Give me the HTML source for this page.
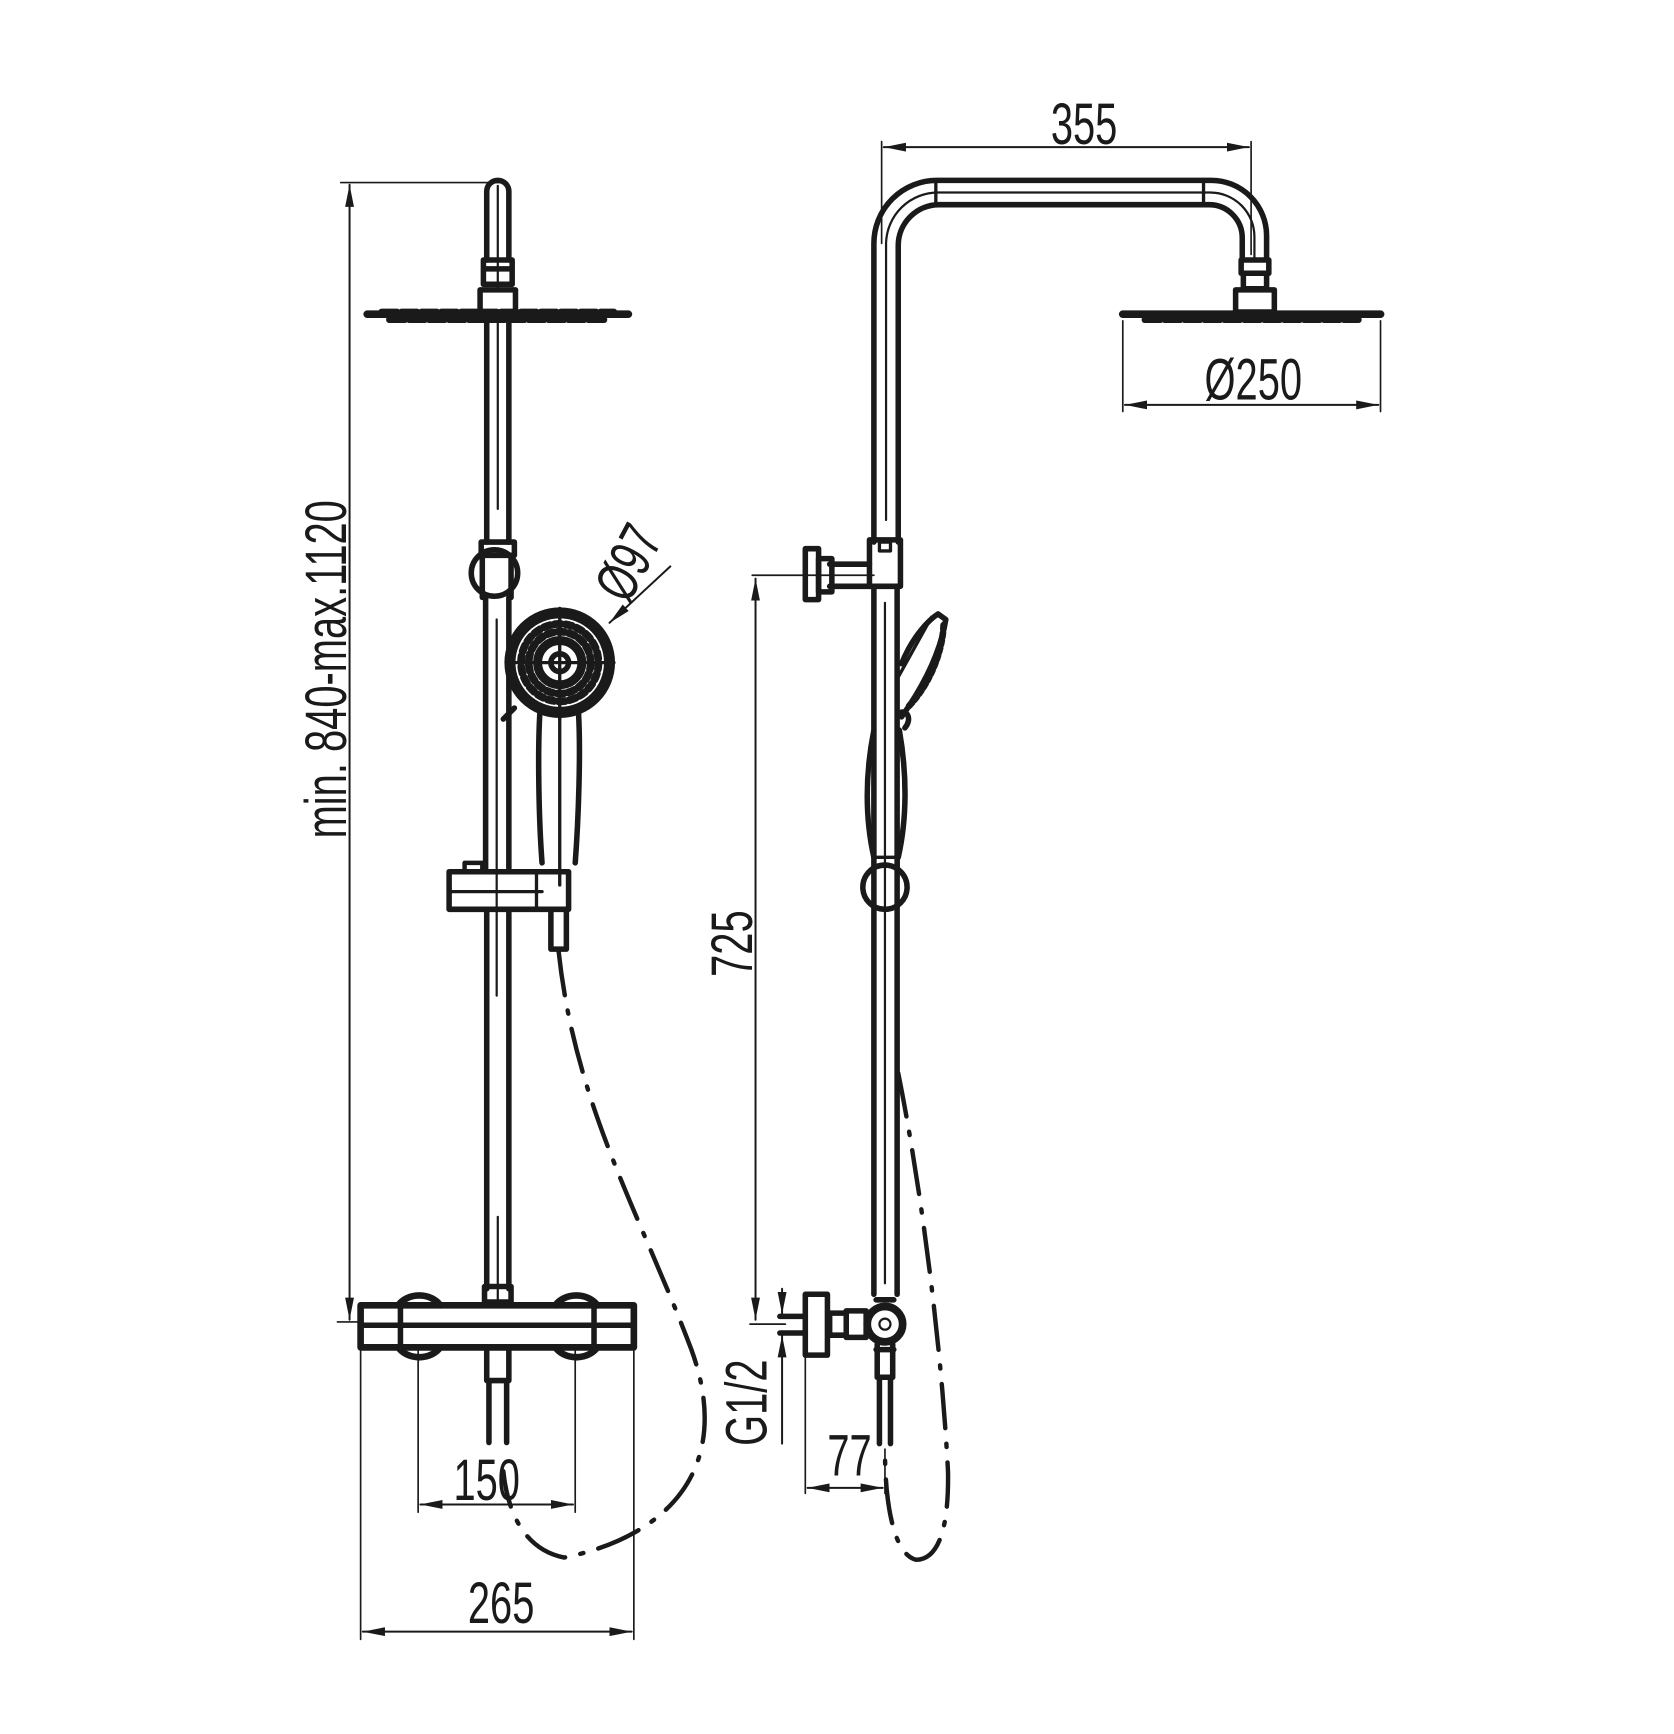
<!DOCTYPE html>
<html><head><meta charset="utf-8"><style>
html,body{margin:0;padding:0;background:#fff}
svg{display:block}
text{font-family:"Liberation Sans",sans-serif;fill:#1a1a1a;font-size:53px}
</style></head><body>
<svg width="1674" height="1734" viewBox="0 0 1536 1591" xmlns="http://www.w3.org/2000/svg">
<defs>
<marker id="a" viewBox="0 0 20 8" refX="20" refY="4" markerWidth="20" markerHeight="8" markerUnits="userSpaceOnUse" orient="auto-start-reverse"><path d="M0,0 L20,4 L0,8 Z" fill="#1a1a1a"/></marker>
</defs>
<g transform="scale(1.015)">
<g stroke="#1a1a1a" fill="none" stroke-linecap="round" stroke-linejoin="round">
<!-- ===== LEFT VIEW ===== -->
<line x1="308" y1="165" x2="452" y2="165" stroke-width="1.5"/>
<line x1="305" y1="1195" x2="328" y2="1195" stroke-width="1.5"/>
<line x1="316" y1="167" x2="316" y2="1193" stroke-width="1.8" marker-start="url(#a)" marker-end="url(#a)"/>
<path d="M440,235 L440,173 A10,10 0 0 1 460,173 L460,235" stroke-width="5"/>
<line x1="450" y1="168" x2="450" y2="262" stroke-width="2"/>
<path d="M437,235 h26 v8 h-26 z M437,243 h26 v14 h-26 z" stroke-width="5"/>
<path d="M434,262 h32 v20 h-32 z" stroke-width="5"/>
<path d="M332,284 L568,284" stroke-width="7"/>
<path d="M345,282 L555,282 M352,289 L548,289" stroke-width="6" stroke-dasharray="14,4"/>
<line x1="440" y1="290" x2="440" y2="490" stroke-width="5"/>
<line x1="460" y1="290" x2="460" y2="490" stroke-width="5"/>
<line x1="450" y1="290" x2="450" y2="460" stroke-width="2"/>
<path d="M435,490 h30 v12 h-30 z" stroke-width="5"/>
<circle cx="447" cy="518" r="21" stroke-width="5"/>
<line x1="436" y1="502" x2="436" y2="540" stroke-width="5"/>
<line x1="462" y1="502" x2="462" y2="540" stroke-width="5"/>
<line x1="439" y1="540" x2="439" y2="785" stroke-width="5"/>
<line x1="460" y1="540" x2="460" y2="785" stroke-width="5"/>
<line x1="449" y1="560" x2="449" y2="900" stroke-width="2"/>
<!-- hand shower -->
<circle cx="506" cy="599" r="45" stroke-width="10"/>
<circle cx="506" cy="599" r="20" stroke-width="8"/>
<circle cx="506" cy="599" r="8" stroke-width="5"/>
<line x1="458" y1="599" x2="555" y2="599" stroke-width="3"/>
<line x1="506" y1="550" x2="506" y2="650" stroke-width="3"/>
<g stroke-width="7" stroke-dasharray="6,4"><circle cx="506" cy="599" r="35"/><circle cx="506" cy="599" r="28"/></g>
<path d="M488,645 C486,680 487,740 490,780 M523,645 C525,680 523,740 520,780" stroke-width="5"/>
<line x1="506" y1="645" x2="506" y2="800" stroke-width="3"/>
<path d="M455,650 L465,640" stroke-width="5"/>
<path d="M406,788 h108 v34 h-108 z" stroke-width="5"/>
<path d="M420,780 h16 v8 h-16 z" stroke-width="4"/>
<line x1="406" y1="806" x2="490" y2="806" stroke-width="3"/>
<line x1="485" y1="788" x2="485" y2="822" stroke-width="3"/>
<path d="M498,822 v36 h14 v-36" stroke-width="5"/>
<line x1="440" y1="822" x2="440" y2="1165" stroke-width="5"/>
<line x1="460" y1="822" x2="460" y2="1165" stroke-width="5"/>
<line x1="450" y1="1100" x2="450" y2="1175" stroke-width="2"/>
<path d="M438,1163 h24 v14 h-24 z" stroke-width="5"/>
<!-- mixer -->
<path d="M326,1180 h247 v38 h-247 z" stroke-width="6"/>
<line x1="326" y1="1198" x2="573" y2="1198" stroke-width="5"/>
<path d="M360,1180 A22,18 0 0 1 398,1180 M502,1180 A22,18 0 0 1 540,1180" stroke-width="6"/>
<path d="M360,1218 A22,18 0 0 0 398,1218 M502,1218 A22,18 0 0 0 540,1218" stroke-width="6"/>
<line x1="362" y1="1180" x2="362" y2="1218" stroke-width="5"/>
<line x1="537" y1="1180" x2="537" y2="1218" stroke-width="5"/>
<path d="M440,1218 v30 h20 v-30" stroke-width="5"/>
<path d="M442,1248 v56 M458,1248 v56" stroke-width="5"/>
<line x1="378" y1="1220" x2="378" y2="1367" stroke-width="1.5"/>
<line x1="520" y1="1220" x2="520" y2="1367" stroke-width="1.5"/>
<line x1="380" y1="1360" x2="518" y2="1360" stroke-width="1.8" marker-start="url(#a)" marker-end="url(#a)"/>
<line x1="326" y1="1220" x2="326" y2="1482" stroke-width="1.5"/>
<line x1="573" y1="1220" x2="573" y2="1482" stroke-width="1.5"/>
<line x1="328" y1="1475" x2="571" y2="1475" stroke-width="1.8" marker-start="url(#a)" marker-end="url(#a)"/>
<line x1="606" y1="512" x2="551" y2="563" stroke-width="1.8" marker-end="url(#a)"/>
<path d="M505,860 C520,1000 580,1100 625,1220 C665,1330 600,1390 510,1408 C470,1400 458,1360 455,1330" stroke-width="4" stroke-dasharray="40,14,3,14"/>

<!-- ===== RIGHT VIEW ===== -->
<line x1="797" y1="128" x2="797" y2="220" stroke-width="1.5"/>
<line x1="1131" y1="128" x2="1131" y2="230" stroke-width="1.5"/>
<line x1="799" y1="133" x2="1129" y2="133" stroke-width="1.8" marker-start="url(#a)" marker-end="url(#a)"/>
<path d="M790,490 L790,220 A57,57 0 0 1 847,163 L1095,163 A50,50 0 0 1 1145,213 L1145,235" stroke-width="5"/>
<path d="M812,490 L812,222 A37,37 0 0 1 849,185 L1093,185 A30,30 0 0 1 1123,215 L1123,235" stroke-width="5"/>
<path d="M801,470 L801,220 A47,47 0 0 1 848,174 L1094,174 A40,40 0 0 1 1134,214 L1134,235" stroke-width="2"/>
<line x1="846" y1="163" x2="846" y2="185" stroke-width="3"/>
<line x1="1088" y1="163" x2="1088" y2="185" stroke-width="3"/>
<path d="M1122,235 h25 v12 h-25 z M1124,247 h21 v14 h-21 z M1117,262 h35 v20 h-35 z" stroke-width="5"/>
<line x1="1015" y1="284" x2="1248" y2="284" stroke-width="7"/>
<path d="M1035,289 L1228,289" stroke-width="6" stroke-dasharray="14,4"/>
<line x1="1015" y1="290" x2="1015" y2="372" stroke-width="1.5"/>
<line x1="1248" y1="290" x2="1248" y2="372" stroke-width="1.5"/>
<line x1="1017" y1="366" x2="1246" y2="366" stroke-width="1.8" marker-start="url(#a)" marker-end="url(#a)"/>
<path d="M786,488 h28 v42 h-28 z" stroke-width="5"/>
<path d="M795,490 h10 v8 h-10 z" stroke-width="3"/>
<path d="M750,510 h36 M750,530 h36" stroke-width="5"/>
<path d="M740,505 h12 v30 h-12 z" stroke-width="5"/>
<path d="M728,496 h12 v46 h-12 z" stroke-width="5"/>
<line x1="680" y1="520" x2="790" y2="520" stroke-width="1.5"/>
<line x1="683" y1="523" x2="683" y2="1193" stroke-width="1.8" marker-start="url(#a)" marker-end="url(#a)"/>
<line x1="790" y1="530" x2="790" y2="1170" stroke-width="5"/>
<line x1="811" y1="530" x2="811" y2="1170" stroke-width="5"/>
<line x1="800" y1="545" x2="800" y2="1160" stroke-width="2"/>
<path d="M815,600 C825,575 840,560 848,555 L855,560 C850,590 835,620 815,648 M812,645 C820,640 825,650 818,658" stroke-width="5"/>
<path d="M812,612 L842,558" stroke-width="3"/>
<path d="M853,565 C852,590 840,620 820,640" stroke-width="6" stroke-dasharray="4,3"/>
<path d="M790,660 C782,700 782,740 790,775 M813,660 C820,700 820,740 812,775" stroke-width="5"/>
<path d="M790,775 h22 v8 h-22 z" stroke-width="3"/>
<circle cx="800" cy="802" r="20" stroke-width="5"/>
<circle cx="800" cy="1197" r="16" stroke-width="7"/>
<circle cx="800" cy="1197" r="5" stroke-width="2"/>
<path d="M765,1185 h18 v24 h-18 z M750,1187 h15 v20 h-15 z" stroke-width="5"/>
<path d="M728,1170 h20 v55 h-20 z" stroke-width="5"/>
<path d="M705,1190 h23 M705,1205 h23" stroke-width="5"/>
<path d="M792,1175 h16 M792,1220 h16" stroke-width="5"/>
<path d="M793,1215 v30 h14 v-30 M795,1245 v60 M805,1245 v60" stroke-width="5"/>
<line x1="678" y1="1197" x2="710" y2="1197" stroke-width="1.5"/>
<line x1="707" y1="1165" x2="707" y2="1188" stroke-width="1.8" marker-end="url(#a)"/>
<line x1="707" y1="1305" x2="707" y2="1207" stroke-width="1.8" marker-end="url(#a)"/>
<line x1="728" y1="1225" x2="728" y2="1350" stroke-width="1.5"/>
<line x1="800" y1="1310" x2="800" y2="1350" stroke-width="1.5"/>
<line x1="730" y1="1345" x2="798" y2="1345" stroke-width="1.8" marker-start="url(#a)" marker-end="url(#a)"/>
<path d="M812,970 C830,1060 850,1200 857,1330 C858,1390 845,1410 828,1410 C808,1405 800,1360 800,1310" stroke-width="4" stroke-dasharray="40,14,3,14"/>
</g>
<text transform="translate(980,130) scale(0.68,1)" text-anchor="middle">355</text>
<text transform="translate(1133,361) scale(0.68,1)" text-anchor="middle">Ø250</text>
<text transform="translate(440,1356) scale(0.68,1)" text-anchor="middle">150</text>
<text transform="translate(453,1467) scale(0.68,1)" text-anchor="middle">265</text>
<text transform="translate(768,1334) scale(0.68,1)" text-anchor="middle">77</text>
<text transform="translate(313,605) rotate(-90) scale(0.68,1)" text-anchor="middle">min. 840-max.1120</text>
<text transform="translate(680,853) rotate(-90) scale(0.68,1)" text-anchor="middle">725</text>
<text transform="translate(693,1268) rotate(-90) scale(0.68,1)" text-anchor="middle">G1/2</text>
<text transform="translate(584,517) rotate(-62) scale(0.68,1)" text-anchor="middle">Ø97</text>
</g>
</svg>
</body></html>
